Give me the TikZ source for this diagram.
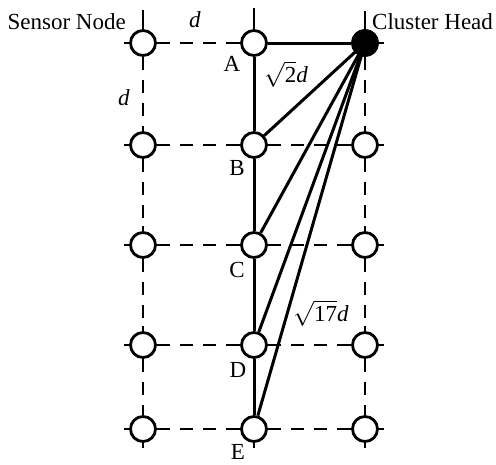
\documentclass[tikz,border=0pt]{standalone}
\usepackage{fontspec}
\setmainfont{Liberation Serif}
\begin{document}
\begin{tikzpicture}[x=1pt,y=-1pt,
  sn/.style={circle,draw,line width=2.8pt,fill=white,minimum size=25pt,inner sep=0pt},
  ch/.style={circle,draw,line width=2.8pt,fill=black,minimum size=25pt,inner sep=0pt},
  gridline/.style={line width=2.2pt,dash pattern=on 13pt off 10pt},
  ext/.style={line width=2.2pt},
  link/.style={line width=3pt},
  tick/.style={line width=2.2pt},
  lbl/.style={font=\fontsize{23}{26}\selectfont,inner sep=0pt}]
\useasboundingbox (0,0) rectangle (496,464);
% nodes
\node[sn] (n11) at (143,43) {};
\node[sn] (A)   at (254,43) {};
\node[ch] (CH)  at (365,43) {};
\node[sn] (n12) at (143,145) {};
\node[sn] (B)   at (254,145) {};
\node[sn] (n32) at (365,145) {};
\node[sn] (n13) at (143,245) {};
\node[sn] (C)   at (254,245) {};
\node[sn] (n33) at (365,245) {};
\node[sn] (n14) at (143,345) {};
\node[sn] (D)   at (254,345) {};
\node[sn] (n34) at (365,345) {};
\node[sn] (n15) at (143,429) {};
\node[sn] (E)   at (254,429) {};
\node[sn] (n35) at (365,429) {};
\coordinate (t1) at (143,10);
\coordinate (t2) at (254,8);
\coordinate (t3) at (365,11);
\coordinate (t3e) at (365,27);
% ticks
\foreach \n in {n11,A,CH,n12,B,n32,n13,C,n33,n14,D,n34,n15,E,n35}{
  \draw[tick] (\n.north) -- ++(0pt,5pt);
  \draw[tick] (\n.south) -- ++(0pt,-5pt);
  \draw[tick] (\n.east) -- ++(5pt,0pt);
  \draw[tick] (\n.west) -- ++(-5pt,0pt);
}
% top extensions
\draw[ext] (t1) -- (n11);
\draw[ext] (t2) -- (A);
\draw[ext] (t3) -- (t3e);
% grid dashed lines
\foreach \a/\b in {n11/A,n11/n12,n12/n13,n13/n14,n14/n15,CH/n32,n32/n33,n33/n34,n34/n35,
  n12/B,B/n32,n13/C,C/n33,n14/D,D/n34,n15/E,E/n35}
  \draw[gridline] (\a) -- (\b);
% solid links
\draw[link] (A) -- (CH);
\draw[link] (A) -- (B);
\draw[link] (B) -- (C);
\draw[link] (C) -- (D);
\draw[link] (D) -- (E);
\draw[link] (CH.center) -- (B);
\draw[link] (CH.center) -- (C);
\draw[link] (CH.center) -- (D);
\draw[link] (CH.center) -- (E);
\node[ch] at (CH) {};
% labels
\node[lbl,anchor=east] (lsn) at (126,22) {Sensor Node};
\node[lbl,anchor=west] (lch) at (372,22) {Cluster Head};
\node[lbl] (ld1) at (195,20) {\textit{d}};
\node[lbl] (ld2) at (124,98) {\textit{d}};
\node[lbl] (lA) at (232,64) {A};
\node[lbl] (lB) at (237,168) {B};
\node[lbl] (lC) at (237,270) {C};
\node[lbl] (lD) at (238,370) {D};
\node[lbl] (lE) at (238,452) {E};
\node[lbl] (ls2) at (286,74) {$\sqrt{\mbox{2}}$\textit{d}};
\node[lbl] (ls17) at (321,313) {$\sqrt{\mbox{17}}$\textit{d}};
\end{tikzpicture}
\end{document}
